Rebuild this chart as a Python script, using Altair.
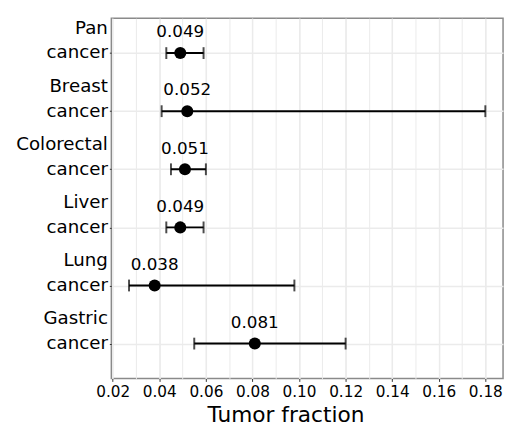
import altair as alt
import pandas as pd

cancers = ["Pan cancer", "Breast cancer", "Colorectal cancer", "Liver cancer", "Lung cancer", "Gastric cancer"]
estimate = [0.049, 0.052, 0.051, 0.049, 0.038, 0.081]
lower = [0.043, 0.041, 0.045, 0.043, 0.027, 0.055]
upper = [0.059, 0.180, 0.060, 0.059, 0.098, 0.120]
major_ticks = [0.02, 0.04, 0.06, 0.08, 0.10, 0.12, 0.14, 0.16, 0.18]
minor_ticks = [0.02, 0.03, 0.04, 0.05, 0.06, 0.07, 0.08, 0.09, 0.10, 0.11,
               0.12, 0.13, 0.14, 0.15, 0.16, 0.17, 0.18]

df = pd.DataFrame({"cancer": cancers, "est": estimate, "lo": lower, "hi": upper})

FONT = "DejaVu Sans"
xscale = alt.Scale(domain=[0.0194, 0.1876], nice=False, zero=False)

yenc = alt.Y(
    "cancer:N",
    sort=cancers,
    scale=alt.Scale(type="point", padding=0.6),
    axis=alt.Axis(
        title=None,
        labelExpr="split(datum.label, ' ')",
        labelFont=FONT,
        labelFontSize=18.5,
        labelLineHeight=25,
        labelColor="black",
        labelAlign="right",
        labelPadding=2,
        labelOffset=-26,
        tickSize=2,
        tickColor="#333333",
        domain=False,
        grid=True,
        gridColor="#EBEBEB",
        gridWidth=1.5,
    ),
)

base = alt.Chart(df).encode(y=yenc)

grid_minor = base.mark_rule(strokeWidth=2, color="black").encode(
    x=alt.X("lo:Q", scale=xscale,
            axis=alt.Axis(values=minor_ticks, orient="bottom", grid=True, gridColor="#EBEBEB",
                          gridWidth=1, labels=False, ticks=False, domain=False, title=None)),
    x2="hi:Q",
)

caps_lo = base.mark_tick(thickness=2, size=12, color="black").encode(
    x=alt.X("lo:Q", scale=xscale, axis=None)
)
caps_hi = base.mark_tick(thickness=2, size=12, color="black").encode(
    x=alt.X("hi:Q", scale=xscale, axis=None)
)

points = base.mark_circle(size=150, color="black", opacity=1).encode(
    x=alt.X("est:Q", scale=xscale,
            axis=alt.Axis(values=major_ticks, orient="bottom", format=".2f",
                          grid=True, gridColor="#EBEBEB", gridWidth=1.5,
                          labelFont=FONT, labelFontSize=15.5, labelColor="black",
                          labelPadding=3, tickSize=3, tickColor="#333333", domain=False,
                          title="Tumor fraction", titleFont=FONT, titleFontSize=22,
                          titleFontWeight="normal", titleColor="black",
                          titleX=177, titleY=44, titleAlign="center",
                          titleBaseline="alphabetic")),
)

labels = base.mark_text(dy=-16, baseline="alphabetic", font=FONT, fontSize=17, color="black").encode(
    x=alt.X("est:Q", scale=xscale, axis=None),
    text=alt.Text("est:Q", format=".3f"),
)

chart = (
    alt.layer(grid_minor, caps_lo, caps_hi, points, labels)
    .resolve_axis(x="independent")
    .properties(
        width=398,
        height=366,
        autosize=alt.AutoSizeParams(type="none"),
        padding={"left": 105, "top": 7, "right": 3, "bottom": 50},
    )
    .configure_view(stroke="#8a8a8a", strokeWidth=1.5)
)

chart.save("out.html", embed_options={"renderer": "svg", "actions": False})
